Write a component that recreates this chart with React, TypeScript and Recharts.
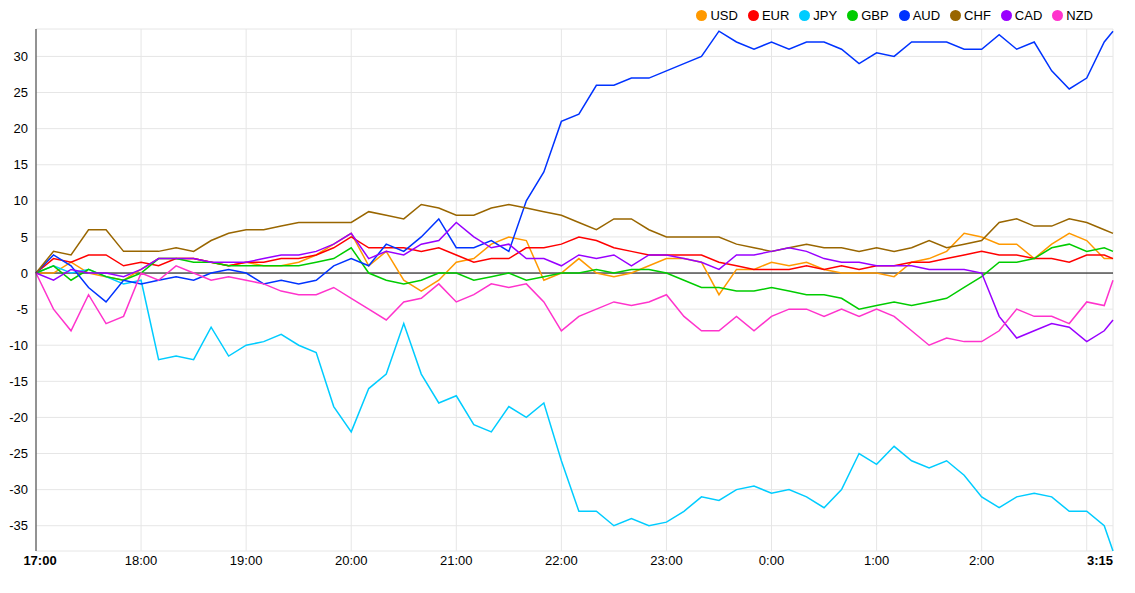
import React from 'react';
import { LineChart, Line, XAxis, YAxis, CartesianGrid, Legend, ReferenceLine } from 'recharts';

const minutes: number[] = [...Array.from({ length: 62 }, (_, i) => i * 10), 615];
const USD = [0,0,1.5,0,-0.5,-1,0.5,2,2,2,1.5,1,1.5,1,1,1.5,2.5,4,5.5,1,3,-1,-2.5,-1,1.5,2,4,5,4.5,-1,0,2,0,-0.5,0,1,2,2,1.5,-3,0.5,0.5,1.5,1,1.5,0.5,0,0,0,-0.5,1.5,2,3,5.5,5,4,4,2,4,5.5,4.5,2,2];
const EUR = [0,2,1.5,2.5,2.5,1,1.5,1,2,2,1.5,1,1.5,1.5,2,2,2.5,3.5,5,3.5,3.5,3.5,3,3.5,2.5,1.5,2,2,3.5,3.5,4,5,4.5,3.5,3,2.5,2.5,2.5,2.5,1.5,1,0.5,0.5,0.5,1,0.5,1,0.5,1,1,1.5,1.5,2,2.5,3,2.5,2.5,2,2,1.5,2.5,2.5,2];
const JPY = [0,1,0,0.5,-0.5,-1.5,-1,-12,-11.5,-12,-7.5,-11.5,-10,-9.5,-8.5,-10,-11,-18.5,-22,-16,-14,-7,-14,-18,-17,-21,-22,-18.5,-20,-18,-26,-33,-33,-35,-34,-35,-34.5,-33,-31,-31.5,-30,-29.5,-30.5,-30,-31,-32.5,-30,-25,-26.5,-24,-26,-27,-26,-28,-31,-32.5,-31,-30.5,-31,-33,-33,-35,-38.5];
const GBP = [0,1,-1,0.5,-0.5,-1,0,2,2,1.5,1.5,1,1,1,1,1,1.5,2,3.5,0,-1,-1.5,-1,0,0,-1,-0.5,0,-1,-0.5,0,0,0.5,0,0.5,0.5,0,-1,-2,-2,-2.5,-2.5,-2,-2.5,-3,-3,-3.5,-5,-4.5,-4,-4.5,-4,-3.5,-2,-0.5,1.5,1.5,2,3.5,4,3,3.5,3];
const AUD = [0,2.5,1,-2,-4,-1,-1.5,-1,-0.5,-1,0,0.5,0,-1.5,-1,-1.5,-1,1,2,1,4,3,5,7.5,3.5,3.5,4.5,3,10,14,21,22,26,26,27,27,28,29,30,33.5,32,31,32,31,32,32,31,29,30.5,30,32,32,32,31,31,33,31,32,28,25.5,27,32,33.5];
const CHF = [0,3,2.5,6,6,3,3,3,3.5,3,4.5,5.5,6,6,6.5,7,7,7,7,8.5,8,7.5,9.5,9,8,8,9,9.5,9,8.5,8,7,6,7.5,7.5,6,5,5,5,5,4,3.5,3,3.5,4,3.5,3.5,3,3.5,3,3.5,4.5,3.5,4,4.5,7,7.5,6.5,6.5,7.5,7,6,5.5];
const CAD = [0,-1,0.5,0,0,-0.5,0.5,2,2,2,1.5,1.5,1.5,2,2.5,2.5,3,4,5.5,2,3,2.5,4,4.5,7,5,3.5,4,2,2,1,2.5,2,2.5,1,2.5,2.5,2,1.5,0.5,2.5,2.5,3,3.5,3,2,1.5,1.5,1,1,1,0.5,0.5,0.5,0,-6,-9,-8,-7,-7.5,-9.5,-8,-6.5];
const NZD = [0,-5,-8,-3,-7,-6,0,-1,1,0,-1,-0.5,-1,-1.5,-2.5,-3,-3,-2,-3.5,-5,-6.5,-4,-3.5,-1.5,-4,-3,-1.5,-2,-1.5,-4,-8,-6,-5,-4,-4.5,-4,-3,-6,-8,-8,-6,-8,-6,-5,-5,-6,-5,-6,-5,-6,-8,-10,-9,-9.5,-9.5,-8,-5,-6,-6,-7,-4,-4.5,-1];

const seriesNames = ['USD', 'EUR', 'JPY', 'GBP', 'AUD', 'CHF', 'CAD', 'NZD'];
const seriesValues = [USD, EUR, JPY, GBP, AUD, CHF, CAD, NZD];
const colors = ['#ff9900', '#ff0000', '#00ccff', '#00cc00', '#0033ff', '#996600', '#9900ff', '#ff33cc'];
const xTicks = [0, 60, 120, 180, 240, 300, 360, 420, 480, 540, 600, 615];
const xTickLabels = ['17:00', '18:00', '19:00', '20:00', '21:00', '22:00', '23:00', '0:00', '1:00', '2:00', '', '3:15'];
const yTicks = [-35, -30, -25, -20, -15, -10, -5, 0, 5, 10, 15, 20, 25, 30];

const data = minutes.map((t, i) => {
  const row: Record<string, number> = { t };
  seriesNames.forEach((n, k) => { row[n] = seriesValues[k][i]; });
  return row;
});

const XTick = (props: any) => {
  const { x, y, payload } = props;
  const idx = xTicks.indexOf(payload.value);
  const label = xTickLabels[idx];
  const bold = idx === 0 || idx === xTicks.length - 1;
  const anchor = idx === xTicks.length - 1 ? 'end' : 'middle';
  return (
    <text x={idx === 0 ? x + 4 : x} y={y + 6} textAnchor={anchor} fontSize={13} fontWeight={bold ? 'bold' : 'normal'} fill="#000" fontFamily="Arial">
      {label}
    </text>
  );
};

const LegendContent = () => (
  <div style={{ display: 'flex', justifyContent: 'flex-end', gap: 10, fontSize: 13, fontFamily: 'Arial', paddingRight: 20, paddingBottom: 6 }}>
    {seriesNames.map((n, k) => (
      <span key={n} style={{ display: 'inline-flex', alignItems: 'center', gap: 3 }}>
        <span style={{ width: 11, height: 11, borderRadius: '50%', background: colors[k], display: 'inline-block' }} />
        {n}
      </span>
    ))}
  </div>
);

export default function App() {
  return (
    <div style={{ fontFamily: 'Arial' }}>
      <LineChart width={1127} height={585} data={data} margin={{ top: 0, right: 22, bottom: 12, left: 0 }}>
        <Legend verticalAlign="top" align="right" content={<LegendContent />} />
        <CartesianGrid stroke="#e6e6e6" />
        <XAxis dataKey="t" type="number" domain={[0, 615]} ticks={xTicks} interval={0} tick={<XTick />} axisLine={false} tickLine={false} height={30} />
        <YAxis type="number" domain={[-38.5, 33.8]} ticks={yTicks} interval={0} width={28} tick={{ fontSize: 13, fill: '#000', fontFamily: 'Arial' }} tickLine={false} axisLine={{ stroke: '#333' }} allowDataOverflow />
        <ReferenceLine y={0} stroke="#000" />
        {seriesNames.map((n, k) => (
          <Line key={n} dataKey={n} stroke={colors[k]} strokeWidth={1.5} dot={false} isAnimationActive={false} type="linear" />
        ))}
      </LineChart>
    </div>
  );
}
